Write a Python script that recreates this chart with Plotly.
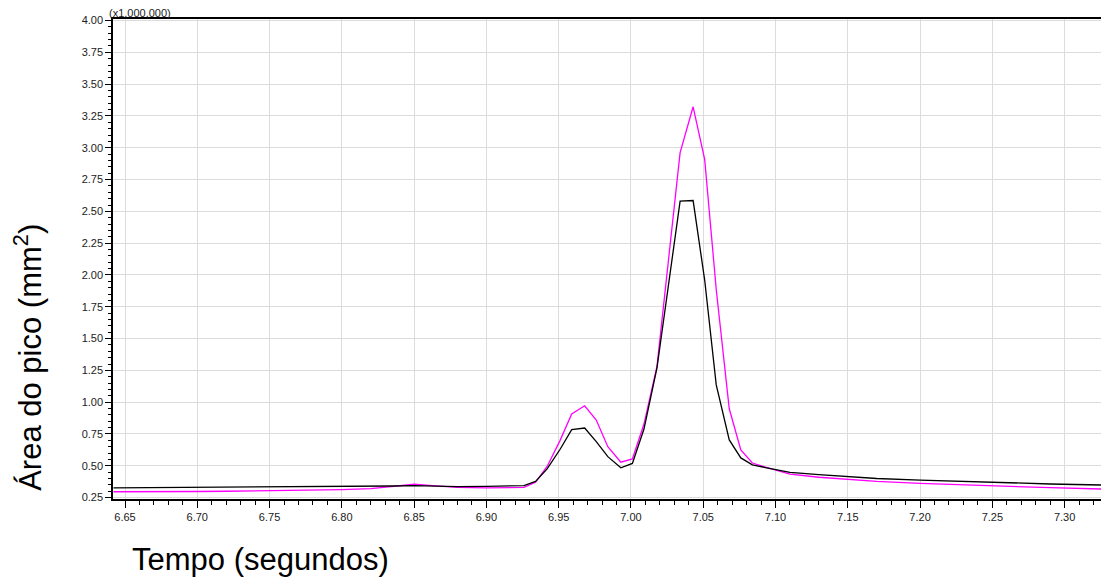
import plotly.graph_objects as go

# Time (s)
time_s = [6.642, 6.66, 6.68, 6.70, 6.72, 6.74, 6.76, 6.78, 6.80, 6.82, 6.835, 6.85, 6.865, 6.88, 6.90, 6.917,
          6.926, 6.934, 6.942, 6.951, 6.959, 6.968, 6.976, 6.984, 6.993, 7.001, 7.009, 7.018, 7.026, 7.034,
          7.043, 7.051, 7.059, 7.068, 7.076, 7.084, 7.093,
          7.11, 7.13, 7.15, 7.17, 7.20, 7.23, 7.26, 7.29, 7.33]

# Peak area (x1,000,000 mm^2) - black trace
black_vals = [0.327, 0.328, 0.330, 0.330, 0.333, 0.332, 0.333, 0.334, 0.336, 0.338, 0.341, 0.344, 0.340, 0.337, 0.339, 0.342,
              0.344, 0.378, 0.476, 0.630, 0.784, 0.797, 0.690, 0.572, 0.484, 0.519, 0.789, 1.270, 1.930, 2.580,
              2.585, 1.960, 1.136, 0.703, 0.562, 0.508, 0.486,
              0.448, 0.430, 0.413, 0.400, 0.388, 0.376, 0.364, 0.357, 0.348]

# Peak area (x1,000,000 mm^2) - magenta trace
magenta_vals = [0.296, 0.295, 0.297, 0.298, 0.300, 0.302, 0.305, 0.308, 0.313, 0.320, 0.340, 0.355, 0.342, 0.330, 0.327, 0.328,
                0.330, 0.370, 0.495, 0.700, 0.908, 0.972, 0.860, 0.650, 0.528, 0.554, 0.828, 1.282, 2.120, 2.962,
                3.322, 2.908, 1.886, 0.948, 0.624, 0.522, 0.490,
                0.435, 0.410, 0.395, 0.378, 0.362, 0.350, 0.338, 0.328, 0.316]

x_ticks = [6.65, 6.70, 6.75, 6.80, 6.85, 6.90, 6.95, 7.00, 7.05, 7.10, 7.15, 7.20, 7.25, 7.30]
y_ticks = [0.25, 0.50, 0.75, 1.00, 1.25, 1.50, 1.75, 2.00, 2.25, 2.50, 2.75, 3.00, 3.25, 3.50, 3.75, 4.00]

fig = go.Figure()
fig.add_trace(go.Scatter(x=time_s, y=magenta_vals, mode="lines",
                         line=dict(color="#ff00ff", width=1.3), showlegend=False))
fig.add_trace(go.Scatter(x=time_s, y=black_vals, mode="lines",
                         line=dict(color="#000000", width=1.3), showlegend=False))

FONT = "Liberation Sans, Arial, sans-serif"
tickfont = dict(family=FONT, size=11, color="#222222")
# page body has an 8px margin, so the figure is sized/offset to compensate
fig.update_layout(
    width=1101, height=570,
    margin=dict(l=105, r=1, t=11, b=79),
    paper_bgcolor="white", plot_bgcolor="white",
    font=dict(family=FONT),
    xaxis=dict(range=[6.6417, 7.33], tickvals=x_ticks, ticktext=[f"{v:.2f}" for v in x_ticks],
               ticks="outside", ticklen=7, tickwidth=1, tickcolor="black",
               minor=dict(dtick=0.01, tick0=6.65, ticks="outside", ticklen=4, tickcolor="black", showgrid=False),
               showgrid=True, gridcolor="#dcdcdc", gridwidth=1,
               showline=True, linecolor="black", linewidth=1.5, mirror=True,
               tickfont=tickfont, zeroline=False),
    yaxis=dict(range=[0.239, 4.012], tickvals=y_ticks, ticktext=[f"{v:.2f}" for v in y_ticks],
               ticks="outside", ticklen=6, tickwidth=1, tickcolor="black",
               minor=dict(dtick=0.05, tick0=0.25, ticks="outside", ticklen=3, tickcolor="black", showgrid=False),
               showgrid=True, gridcolor="#dcdcdc", gridwidth=1,
               showline=True, linecolor="black", linewidth=1.5, mirror=False,
               tickfont=tickfont, zeroline=False),
)

fig.add_annotation(text="Área do pico (mm<sup>2</sup>)", xref="paper", yref="paper",
                   x=-0.085, y=0.295, xanchor="center", yanchor="middle", textangle=-90,
                   showarrow=False, font=dict(size=31, color="black", family=FONT))
fig.add_annotation(text="Tempo (segundos)", xref="paper", yref="paper",
                   x=0.017, y=-0.125, xanchor="left", yanchor="middle",
                   showarrow=False, font=dict(size=31, color="black", family=FONT))
fig.add_annotation(text="(x1,000,000)", xref="paper", yref="paper",
                   x=-0.006, y=1.0125, xanchor="left", yanchor="middle",
                   showarrow=False, font=dict(size=11, color="#222222", family=FONT))

fig.write_html("out.html")
